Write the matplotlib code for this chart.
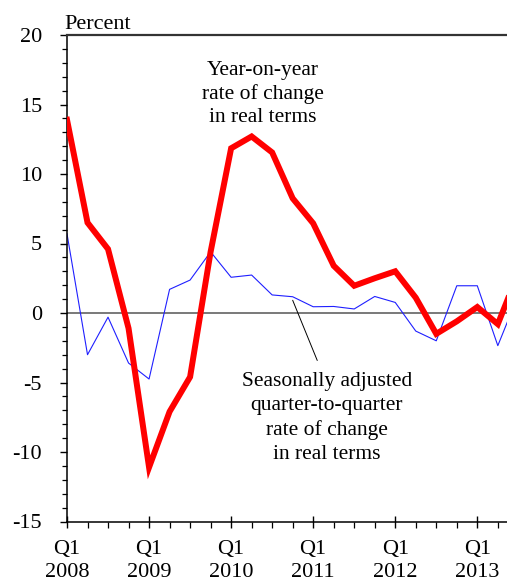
import numpy as np
import matplotlib.pyplot as plt
from matplotlib.ticker import MultipleLocator

plt.rcParams['font.family'] = ['Liberation Serif', 'DejaVu Serif']
plt.rcParams['axes.unicode_minus'] = False

# quarterly data, Q1 2008 .. Q3 2013
years = [2008, 2009, 2010, 2011, 2012, 2013]
yoy = [13.9, 6.5, 4.6, -1.1, -11.1, -7.1, -4.6, 4.4, 11.85, 12.7, 11.55, 8.25,
       6.45, 3.4, 1.96, 2.5, 3.0, 1.1, -1.5, -0.6, 0.43, -0.8, 2.9]
qoq = [5.7, -3.0, -0.3, -3.6, -4.75, 1.7, 2.37, 4.4, 2.57, 2.73, 1.3, 1.17,
       0.45, 0.47, 0.29, 1.19, 0.76, -1.3, -2.0, 1.96, 1.96, -2.35, 1.3]

x = np.arange(len(yoy))

fig = plt.figure(figsize=(5.07, 5.81), dpi=100)
ax = fig.add_axes([67 / 507, 1 - 521.5 / 581, 1 - 67 / 507, (521.5 - 35) / 581])

ax.axhline(0, color='#555555', lw=1.1, zorder=1)
ax.plot(x, qoq, color='#1f1fff', lw=0.8, zorder=2)
ax.plot(x, yoy, color='#ff0000', lw=4.3, zorder=3, solid_joinstyle='miter')

ax.set_xlim(0, 440 / 20.515)
ax.set_ylim(-15, 20)

ax.xaxis.set_minor_locator(MultipleLocator(1))
ax.set_xticks(np.arange(0, 4 * len(years), 4))
ax.set_xticklabels(['Q1\n%d' % y for y in years])
ax.yaxis.set_major_locator(MultipleLocator(5))
ax.yaxis.set_minor_locator(MultipleLocator(1))

ax.tick_params(axis='x', which='major', direction='inout', length=9, width=1.0,
               labelsize=16, pad=9)
ax.tick_params(axis='x', which='minor', direction='out', length=4, width=0.9)
ax.tick_params(axis='y', which='major', direction='out', length=5, width=1.0,
               labelsize=16, pad=13)
ax.tick_params(axis='y', which='minor', direction='out', length=3.5, width=0.9)
for lab in ax.get_xticklabels():
    lab.set_linespacing(1.28)

ax.spines['right'].set_visible(False)
ax.spines['top'].set_color('#333333')
ax.spines['top'].set_linewidth(1.6)
ax.spines['left'].set_linewidth(1.1)
ax.spines['bottom'].set_linewidth(1.1)

ax.text(-0.007, 1.012, 'Percent', transform=ax.transAxes, ha='left',
        va='baseline', fontsize=16)

ax.text(9.55, 18.1, 'Year-on-year\nrate of change\nin real terms', ha='center',
        va='top', fontsize=15.5, linespacing=1.28)

ax.annotate('', xy=(10.95, 1.1), xytext=(12.25, -3.6),
            arrowprops=dict(arrowstyle='-', lw=0.7, color='black'))
ax.text(12.66, -4.25, 'Seasonally adjusted\nquarter-to-quarter\nrate of change\nin real terms',
        ha='center', va='top', fontsize=15.5, linespacing=1.34)

fig.savefig('out.png', dpi=100)
